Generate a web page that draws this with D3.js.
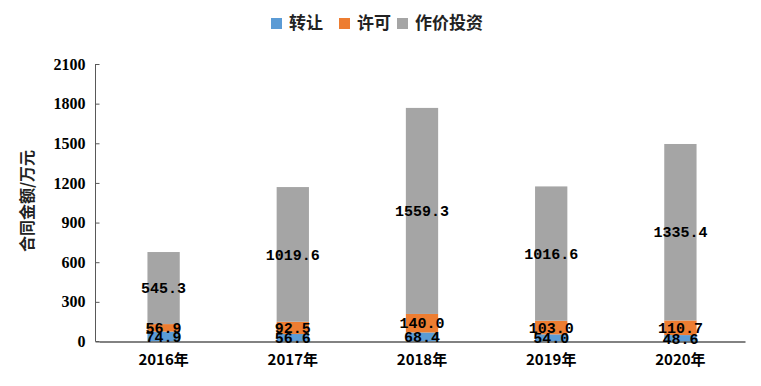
<!DOCTYPE html>
<html>
<head>
<meta charset="utf-8">
<script src="https://cdn.jsdelivr.net/npm/d3@7"></script>
<style>
  body { margin: 0; background: #fff; }
  svg { display: block; }
</style>
</head>
<body>
<svg id="chart" width="761" height="386"></svg>
<script>
// data
const years = ["2016年", "2017年", "2018年", "2019年", "2020年"];
const seriesNames = ["转让", "许可", "作价投资"];
const transfer = [74.9, 56.6, 68.4, 54.0, 48.6];
const license = [56.9, 92.5, 140.0, 103.0, 110.7];
const investment = [545.3, 1019.6, 1559.3, 1016.6, 1335.4];
const yTicks = [0, 300, 600, 900, 1200, 1500, 1800, 2100];
const colors = ["#5B9BD5", "#ED7D31", "#A5A5A5"];

const svg = d3.select("#chart");
const labelFont = "'Liberation Mono', 'DejaVu Sans Mono', monospace";
const cjkFont = "'Noto Sans CJK SC', sans-serif";

const rows = years.map((y, i) => ({
    year: y,
    "转让": transfer[i],
    "许可": license[i],
    "作价投资": investment[i]
}));

const stacked = d3.stack().keys(seriesNames)(rows);

const x = d3.scaleBand()
    .domain(years)
    .range([99, 745])
    .paddingInner(0.75)
    .paddingOuter(0.375);

const y = d3.scaleLinear()
    .domain([0, 2100])
    .range([341.5, 64]);

const color = d3.scaleOrdinal().domain(seriesNames).range(colors);

// bars
const layers = svg.append("g")
    .selectAll("g")
    .data(stacked)
    .enter().append("g")
    .attr("fill", d => color(d.key));

layers.selectAll("rect")
    .data(d => d)
    .enter().append("rect")
    .attr("x", d => x(d.data.year))
    .attr("width", x.bandwidth())
    .attr("y", d => y(d[1]))
    .attr("height", d => y(d[0]) - y(d[1]));

// y axis
const yAxis = svg.append("g")
    .attr("transform", "translate(99.5,0)")
    .call(d3.axisLeft(y).tickValues(yTicks).tickFormat(d3.format("d")).tickSize(4).tickPadding(10));
yAxis.select(".domain").attr("stroke", "#595959").attr("d", "M-4,64V341.5H0");
yAxis.selectAll(".tick line").attr("stroke", "#595959");
yAxis.selectAll(".tick text")
    .attr("fill", "#000")
    .style("font-family", "'Liberation Serif', serif")
    .style("font-weight", "bold")
    .style("font-size", "16px");

// x axis
const xAxis = svg.append("g")
    .attr("transform", "translate(0,341.5)")
    .call(d3.axisBottom(x).tickSize(0).tickPadding(13));
xAxis.select(".domain").attr("stroke", "#595959").attr("stroke-width", 1.3);
xAxis.selectAll(".tick text")
    .attr("fill", "#000")
    .style("font-family", cjkFont)
    .style("font-weight", "bold")
    .style("font-size", "15px");

// axis title
svg.append("text")
    .attr("transform", "translate(33,201) rotate(-90)")
    .attr("text-anchor", "middle")
    .style("font-family", cjkFont)
    .style("font-weight", "bold")
    .style("font-size", "16px")
    .attr("fill", "#222")
    .text("合同金额/万元");

// data labels
stacked.forEach(layer => {
    svg.append("g")
        .selectAll("text")
        .data(layer)
        .enter().append("text")
        .attr("x", d => x(d.data.year) + x.bandwidth() / 2)
        .attr("y", d => (y(d[0]) + y(d[1])) / 2)
        .attr("dy", "0.35em")
        .attr("text-anchor", "middle")
        .style("font-family", labelFont)
        .style("font-weight", "bold")
        .style("font-size", "15px")
        .attr("fill", "#000")
        .text(d => d3.format(".1f")(d.data[layer.key]));
});

// legend
const legendX = [271, 339, 397];
const legend = svg.append("g")
    .selectAll("g")
    .data(seriesNames)
    .enter().append("g")
    .attr("transform", (d, i) => `translate(${legendX[i]},18)`);

legend.append("rect")
    .attr("width", 11)
    .attr("height", 11)
    .attr("fill", d => color(d));

legend.append("text")
    .attr("x", 18)
    .attr("y", 5.5)
    .attr("dy", "0.35em")
    .style("font-family", cjkFont)
    .style("font-weight", "bold")
    .style("font-size", "17px")
    .attr("fill", "#222")
    .text(d => d);
</script>
</body>
</html>
